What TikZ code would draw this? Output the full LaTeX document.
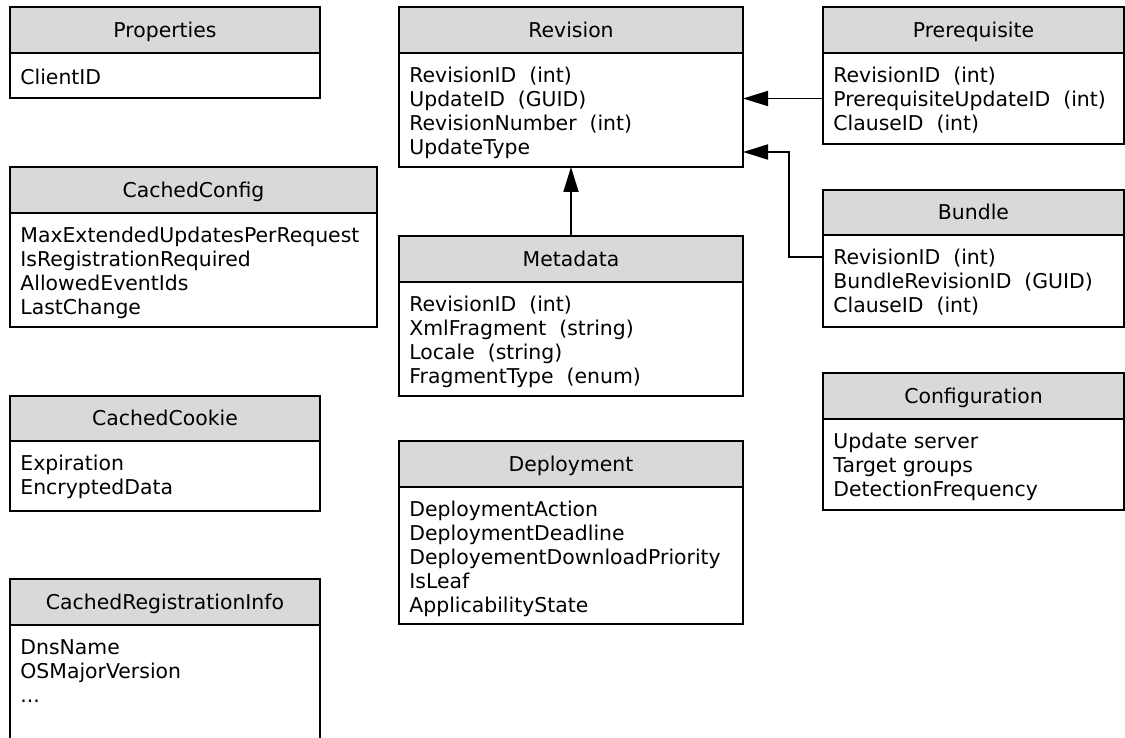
\documentclass[tikz,border=0pt]{standalone}
\usepackage{fontspec}
\setmainfont{DejaVu Sans}
\usetikzlibrary{arrows.meta}
\definecolor{hdrgray}{HTML}{D9D9D9}
\tikzset{
  hdr/.style={draw, line width=0.9pt, fill=hdrgray, inner sep=0pt, outer sep=0pt, anchor=north west, text height=7.4pt, text depth=0pt, font=\fontsize{10.2}{12}\selectfont},
  bodybox/.style={draw, line width=0.9pt, fill=white, inner sep=0pt, outer sep=0pt, anchor=north west},
  attrs/.style={anchor=north west, align=left, inner sep=0pt, font=\fontsize{10.2}{12}\selectfont, execute at begin node={\strut}},
  assoc/.style={draw, line width=0.9pt, -{Triangle[length=12.5pt,width=7.5pt]}}
}
% name, x1, y1, yh, x2, y2, title, lines
\newcommand\umlclass[8]{%
  \node[bodybox, minimum width={(#5-#2)*0.5pt}, minimum height={(#6-#4)*0.5pt}] (#1-b) at (#2,#4) {};
  \node[hdr, minimum width={(#5-#2)*0.5pt}, minimum height={(#4-#3)*0.5pt}] (#1-h) at (#2,#3) {#7};
  \node[attrs] (#1-t) at (#2+10, #4+14) {#8};
}
\begin{document}
\begin{tikzpicture}[x=0.5pt, y=-0.5pt]
\useasboundingbox (0,0) rectangle (1125,738);
\umlclass{prop}{10}{7}{53}{320}{98}{Properties}{ClientID}
\umlclass{cfg}{10}{167}{213}{377}{327}{CachedConfig}{MaxExtendedUpdatesPerRequest\\IsRegistrationRequired\\AllowedEventIds\\LastChange}
\umlclass{cookie}{10}{396}{441}{320}{511}{CachedCookie}{Expiration\\EncryptedData}
\umlclass{reg}{10}{579}{625}{320}{742}{CachedRegistrationInfo}{DnsName\\OSMajorVersion\\...}
\umlclass{rev}{399}{7}{53}{743}{167}{Revision}{RevisionID~~(int)\\UpdateID~~(GUID)\\RevisionNumber~~(int)\\UpdateType}
\umlclass{meta}{399}{236}{282}{743}{396}{Metadata}{RevisionID~~(int)\\XmlFragment~~(string)\\Locale~~(string)\\FragmentType~~(enum)}
\umlclass{dep}{399}{441}{487}{743}{624}{Deployment}{DeploymentAction\\DeploymentDeadline\\DeployementDownloadPriority\\IsLeaf\\ApplicabilityState}
\umlclass{pre}{823}{7}{53}{1124}{144}{Prerequisite}{RevisionID~~(int)\\PrerequisiteUpdateID~~(int)\\ClauseID~~(int)}
\umlclass{bun}{823}{190}{235}{1124}{327}{Bundle}{RevisionID~~(int)\\BundleRevisionID~~(GUID)\\ClauseID~~(int)}
\umlclass{conf}{823}{373}{419}{1124}{510}{Configuration}{Update server\\Target groups\\DetectionFrequency}
\draw[assoc] (meta-h.north) -- (rev-b.south);
\draw[assoc] (pre-b.west) -- (pre-b.west -| rev-b.east);
\draw[assoc] ([yshift=-11pt]bun-b.north west) -- ++(-34,0) |- ([yshift=7.5pt]rev-b.south east);
\end{tikzpicture}
\end{document}
